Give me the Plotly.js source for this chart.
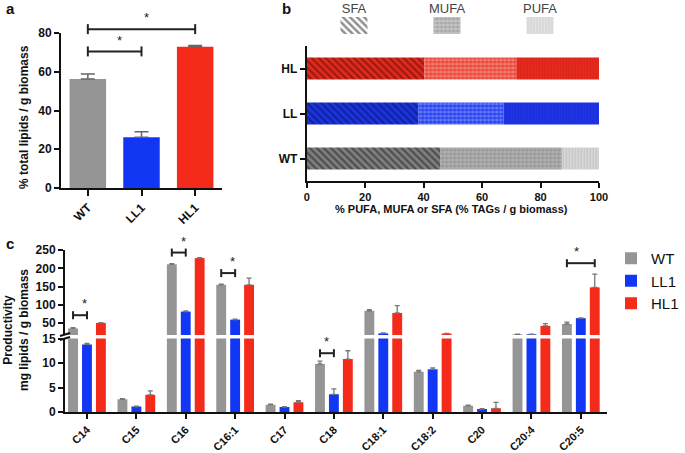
<!DOCTYPE html>
<html><head><meta charset="utf-8">
<script src="https://cdn.plot.ly/plotly-3.0.1.min.js"></script>
<style>html,body{margin:0;padding:0;background:#fff}#plot{width:685px;height:453px}</style>
</head><body><div id="plot"></div>
<script>
// ---------- DATA ----------
// Panel a
const aCats = ['WT', 'LL1', 'HL1'];
const aVals = [56.3, 26.2, 72.9];
const aErr = [2.6, 2.8, 0.7];
const aSig = [{from: 0, to: 1, y: 70.5}, {from: 0, to: 2, y: 82}];
// Panel b
const bCats = ['WT', 'LL', 'HL'];
const bSFA = [45.8, 38.2, 40.3];
const bMUFA = [41.5, 29.2, 31.4];
const bPUFA = [12.7, 32.6, 28.3];
const bLegend = ['SFA', 'MUFA', 'PUFA'];
// Panel c
const cCats = ['C14','C15','C16','C16:1','C17','C18','C18:1','C18:2','C20','C20:4','C20:5'];
const cWT = [36, 2.6, 211, 155, 1.5, 9.8, 84, 8.2, 1.3, 20, 48];
const cWTerr = [2, 0.1, 2, 2, 0.1, 0.6, 3, 0.3, 0.1, 0.5, 5];
const cLL = [13.8, 1.1, 82, 60, 1.0, 3.6, 22.5, 8.7, 0.6, 20, 64];
const cLLerr = [0.2, 0.1, 2, 1, 0.1, 1.1, 1, 0.3, 0.1, 0.5, 1];
const cHL = [51, 3.5, 228, 155, 2.0, 10.8, 78, 22, 0.75, 43, 148];
const cHLerr = [1, 0.8, 1, 18, 0.3, 1.7, 20, 0.5, 1.2, 6, 36];
const cSig = [{cat: 'C14', from: 0, to: 1, y: 72, seg: 'up'},
              {cat: 'C16', from: 0, to: 1, y: 243, seg: 'up'},
              {cat: 'C16:1', from: 0, to: 1, y: 187, seg: 'up'},
              {cat: 'C18', from: 0, to: 1, y: 12, seg: 'low'},
              {cat: 'C20:5', from: 0, to: 2, y: 214, seg: 'up'}];
const seriesNames = ['WT', 'LL1', 'HL1'];

// ---------- STYLE ----------
const GRAY = '#959595', BLUE = '#1237f4', RED = '#f42a1b';
const W = 685, H = 453;
const fx = p => p / W, fy = p => (H - p) / H;
const FONT = 'Liberation Sans, Arial, sans-serif';

const domA = {x: [fx(61), fx(222)], y: [fy(188), fy(33)]};
const rngA = {x: [-0.5, 2.5], y: [0, 80]};
const domB = {x: [fx(306.7), fx(599)], y: [fy(181), fy(46)]};
const domBL = {x: [fx(307.5), fx(586.5)], y: [fy(34), fy(17)]};
const domC = {x: [fx(65), fx(607)], lo: [fy(412), fy(338.5)], up: [fy(335), fy(250)]};
const rngC = {x: [-0.445, 10.53], lo: [0, 15], up: [18, 250]};

const lin = (v, d, r) => d[0] + (v - r[0]) / (r[1] - r[0]) * (d[1] - d[0]);

const axBase = {showline: true, linecolor: '#111', linewidth: 2, ticks: 'outside', ticklen: 5,
  tickwidth: 2, tickcolor: '#111', showgrid: false, zeroline: false, automargin: false,
  tickfont: {family: FONT, size: 12, color: '#111', weight: 'bold'}};

const traces = [];
// Panel a
traces.push({type: 'bar', x: aCats, y: aVals, xaxis: 'x', yaxis: 'y', width: 0.68,
  marker: {color: [GRAY, BLUE, RED]}, showlegend: false,
  error_y: {type: 'data', symmetric: false, array: aErr, arrayminus: aErr.map(() => 0),
    color: '#666', thickness: 1.5, width: 7}});

// Panel b
const bColors = {WT: ['#7f7f7f', '#9a9a9a', '#d6d6d6'], LL: ['#1b34e0', '#2a44ee', '#1e34e6'], HL: ['#e02a1e', '#ea4a3c', '#e52a1e']};
const bFg = {WT: ['#1d1d1d', '#c8c8c8', '#b0b0b0'], LL: ['#081060', '#9fb0ff', '#1426c0'], HL: ['#5a0a08', '#f6b6ae', '#c81c12']};
const shapes3 = ['\\', '.', '|'];
const parts = [bSFA, bMUFA, bPUFA];
bCats.forEach((cat, ci) => {
  let base = 0;
  parts.forEach((arr, pi) => {
    traces.push({type: 'bar', orientation: 'h', y: [cat], x: [arr[ci]], base: [base],
      xaxis: 'x2', yaxis: 'y2', width: 0.49, offset: -0.245, showlegend: false,
      marker: {color: bColors[cat][pi], line: {width: 0},
        pattern: {shape: shapes3[pi], fillmode: 'overlay', fgcolor: bFg[cat][pi],
          size: pi === 0 ? 5 : (pi === 1 ? 4 : 3), solidity: pi === 0 ? 0.45 : (pi === 1 ? 0.5 : 0.3)}}});
    base += arr[ci];
  });
});
// Panel b legend swatches
const swBg = ['#ffffff', '#c4c4c4', '#e8e8e8'];
const swFg = ['#222222', '#8a8a8a', '#b5b5b5'];
bLegend.forEach((lab, i) => {
  traces.push({type: 'bar', x: [lab], y: [1], xaxis: 'x4', yaxis: 'y4', width: 0.29, offset: -0.145,
    showlegend: false, hoverinfo: 'skip',
    marker: {color: swBg[i], line: {width: 0},
      pattern: {shape: shapes3[i], fillmode: 'overlay', fgcolor: swFg[i], size: i === 0 ? 5 : (i === 1 ? 4 : 3),
        solidity: 0.5}}});
});

// Panel c
const cSeries = [[cWT, cWTerr, GRAY], [cLL, cLLerr, BLUE], [cHL, cHLerr, RED]];
const slot = 0.282, bw = 0.2;
cSeries.forEach(([vals, err, col], si) => {
  ['y3', 'y5'].forEach(ya => {
    traces.push({type: 'bar', x: cCats, y: vals, xaxis: 'x3', yaxis: ya, name: seriesNames[si],
      width: bw, offset: (si - 1) * slot - bw / 2, showlegend: ya === 'y3',
      marker: {color: col, line: {width: 0}},
      error_y: {type: 'data', symmetric: false, array: err, arrayminus: err.map(() => 0),
        color: '#777', thickness: 1.3, width: 2.5}});
  });
});

// ---------- SHAPES / ANNOTATIONS ----------
const shapes = [], ann = [];
function bracket(x0, x1, y, cap, star) {
  const ln = {color: '#222', width: 2};
  shapes.push({type: 'line', xref: 'paper', yref: 'paper', x0, x1, y0: y, y1: y, line: ln});
  shapes.push({type: 'line', xref: 'paper', yref: 'paper', x0, x1: x0, y0: y - cap, y1: y + cap, line: ln});
  shapes.push({type: 'line', xref: 'paper', yref: 'paper', x0: x1, x1, y0: y - cap, y1: y + cap, line: ln});
  ann.push({xref: 'paper', yref: 'paper', x: (x0 + x1) / 2, y: y + 0.004, text: '*', showarrow: false,
    yanchor: 'bottom', font: {family: FONT, size: star, color: '#222'}});
}
aSig.forEach(s => {
  bracket(lin(s.from, domA.x, rngA.x), lin(s.to, domA.x, rngA.x), lin(s.y, domA.y, rngA.y), 5 / H, 13);
});
cSig.forEach(s => {
  const ci = cCats.indexOf(s.cat);
  const xa = lin(ci + (s.from - 1) * slot, domC.x, rngC.x);
  const xb = lin(ci + (s.to - 1) * slot, domC.x, rngC.x);
  const y = s.seg === 'up' ? lin(s.y, domC.up, rngC.up) : lin(s.y, domC.lo, rngC.lo);
  bracket(xa, xb, y, 4 / H, 13);
});
// axis break mark on panel c
[fy(334.5), fy(338.5)].forEach(yy => {
  shapes.push({type: 'line', xref: 'paper', yref: 'paper', x0: fx(60), x1: fx(70), y0: yy - 1.5 / H, y1: yy + 1.5 / H,
    line: {color: '#111', width: 2}});
});

// panel labels
[['a', 4, 9], ['b', 280, 9], ['c', 4, 243]].forEach(([t, x, y]) => {
  ann.push({xref: 'paper', yref: 'paper', x: fx(x), y: fy(y), text: t, showarrow: false,
    xanchor: 'left', yanchor: 'middle', font: {family: FONT, size: 15, color: '#111', weight: 'bold'}});
});
// axis titles
ann.push({xref: 'paper', yref: 'paper', x: fx(24), y: fy(117), text: '% total lipids / g biomass', textangle: -90,
  showarrow: false, xanchor: 'center', yanchor: 'middle', font: {family: FONT, size: 12, color: '#111', weight: 'bold'}});
ann.push({xref: 'paper', yref: 'paper', x: fx(452), y: fy(209), text: '% PUFA, MUFA or SFA (% TAGs / g biomass)',
  showarrow: false, font: {family: FONT, size: 11, color: '#111', weight: 'bold'}});
ann.push({xref: 'paper', yref: 'paper', x: fx(16), y: fy(330), text: 'Productivity<br>mg lipids / g biomass', textangle: -90,
  showarrow: false, xanchor: 'center', yanchor: 'middle', font: {family: FONT, size: 12, color: '#111', weight: 'bold'}});

const layout = {
  width: W, height: H, margin: {l: 0, r: 0, t: 0, b: 0, pad: 0, autoexpand: false},
  paper_bgcolor: '#fff', plot_bgcolor: 'rgba(0,0,0,0)',
  barmode: 'group', showlegend: true, font: {family: FONT},
  xaxis: Object.assign({}, axBase, {domain: domA.x, range: rngA.x, anchor: 'y', tickangle: -45, ticklen: 6}),
  yaxis: Object.assign({}, axBase, {domain: domA.y, range: rngA.y, anchor: 'x', dtick: 20}),
  xaxis2: Object.assign({}, axBase, {domain: domB.x, range: [0, 100], anchor: 'y2', dtick: 20,
    tickfont: {family: FONT, size: 11, color: '#111', weight: 'bold'}}),
  yaxis2: Object.assign({}, axBase, {domain: domB.y, range: [-0.5, 2.5], anchor: 'x2', type: 'category'}),
  xaxis4: {domain: domBL.x, range: [-0.5, 2.5], anchor: 'y4', type: 'category', side: 'top', showline: false,
    ticks: '', showgrid: false, zeroline: false, automargin: false, tickfont: {family: FONT, size: 13, color: '#444'}},
  yaxis4: {domain: domBL.y, range: [0, 1], anchor: 'x4', visible: false},
  xaxis3: Object.assign({}, axBase, {domain: domC.x, range: rngC.x, anchor: 'y3', tickangle: -45,
    tickfont: {family: FONT, size: 11, color: '#111', weight: 'bold'}}),
  yaxis3: Object.assign({}, axBase, {domain: domC.lo, range: rngC.lo, anchor: 'x3', dtick: 5}),
  yaxis5: Object.assign({}, axBase, {domain: domC.up, range: rngC.up, anchor: 'x3', tick0: 0, dtick: 50}),
  legend: {x: fx(611), y: fy(242), xanchor: 'left', yanchor: 'top', font: {family: FONT, size: 15, color: '#111'},
    bgcolor: 'rgba(0,0,0,0)', tracegroupgap: 4, itemwidth: 30},
  shapes, annotations: ann
};
Plotly.newPlot('plot', traces, layout, {staticPlot: true});
</script></body></html>
